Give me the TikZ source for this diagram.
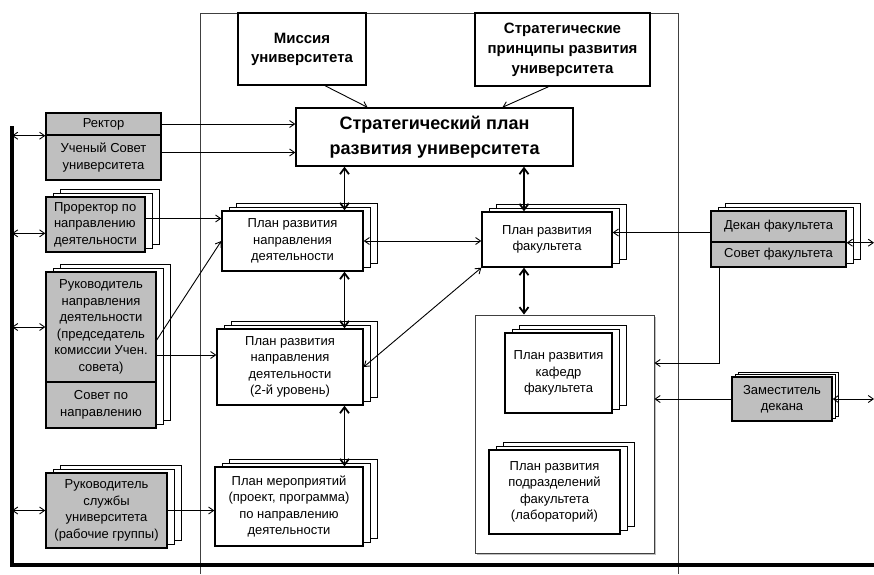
\documentclass[tikz,border=0pt]{standalone}
\usepackage{fontspec}
\setmainfont{Liberation Sans}
\usepackage{tikz}
\usetikzlibrary{arrows.meta}
\usetikzlibrary{shadows}

\tikzset{
  doc/.style={draw, line width=1.4pt, fill=white, align=center, inner sep=1pt,
    font=\fontsize{13}{16.5}\selectfont},
  staff/.style={doc, fill=black!25},
  layer/.style={fill=white, draw=black, line width=0.8pt},
  stack/.style={copy shadow={layer, shadow xshift=14pt, shadow yshift=8pt},
    copy shadow={layer, shadow xshift=7pt, shadow yshift=4pt}},
  thinframe/.style={draw=black!75, line width=0.9pt},
  arr/.style={-{Straight Barb[length=5pt,width=7pt]}, line width=0.9pt},
  biarr/.style={{Straight Barb[length=5pt,width=7pt]}-{Straight Barb[length=5pt,width=7pt]}, line width=0.9pt},
  bigarr/.style={{Straight Barb[length=6pt,width=9pt]}-{Straight Barb[length=6pt,width=9pt]}, line width=1.8pt},
  bus/.style={line width=3.5pt}
}

\begin{document}
\begin{tikzpicture}[x=1pt,y=-1pt]
            \useasboundingbox (0,0) rectangle (874,574);
            \coordinate (mtl) at (200,13);
            \coordinate (mtr) at (678,13);
            \coordinate (mbl) at (200,574);
            \coordinate (mbr) at (678,574);
            \draw[thinframe] (mbl) -- (mtl) -- (mtr) -- (mbr);

            \node[doc, font=\bfseries\fontsize{15}{19}\selectfont, minimum width=128pt, minimum height=72pt] (missiya) at (302,49) {Миссия\\университета};
            \node[doc, font=\bfseries\fontsize{15}{20}\selectfont, minimum width=175pt, minimum height=73pt] (princ) at (562.5,49.5) {Стратегические\\принципы развития\\университета};
            \node[doc, font=\bfseries\fontsize{18}{25}\selectfont, minimum width=277pt, minimum height=58pt] (strat) at (434.5,137) {Стратегический план\\развития университета};

            \node[staff, minimum width=115pt, minimum height=22pt] (rektor) at (103.5,124) {Ректор};
            \node[staff, minimum width=115pt, minimum height=45pt] (uchsovet) at (103.5,157.5) {Ученый Совет\\университета};
            \node[staff, stack, align=left, minimum width=99pt, minimum height=55pt] (prorektor) at (95.5,224.5) {Проректор по\\направлению\\деятельности};
            \node[staff, stack, minimum width=110pt, minimum height=156pt] (rukback) at (101,350) {};
            \node[staff, minimum width=110pt, minimum height=110pt] (ruk) at (101,327) {Руководитель\\направления\\деятельности\\(председатель\\комиссии Учен.\\совета)};
            \node[staff, minimum width=110pt, minimum height=46pt] (sovnapr) at (101,405) {Совет по\\направлению};
            \node[staff, stack, minimum width=121pt, minimum height=75pt] (sluzhba) at (106.5,510.5) {Руководитель\\службы\\университета\\(рабочие группы)};

            \node[doc, stack, minimum width=141pt, minimum height=60pt] (napr1) at (292.5,241) {План развития\\направления\\деятельности};
            \node[doc, stack, minimum width=146pt, minimum height=76pt] (napr2) at (290,367) {План развития\\направления\\деятельности\\(2-й уровень)};
            \node[doc, stack, minimum width=148pt, minimum height=79pt] (merop) at (289,506.5) {План мероприятий\\(проект, программа)\\по направлению\\деятельности};

            \node[doc, stack, minimum width=130pt, minimum height=55pt] (fak) at (547,239.5) {План развития\\факультета};
            \node[thinframe, fill=white, drop shadow={shadow xshift=1.5pt, shadow yshift=-1.5pt}, minimum width=179pt, minimum height=238pt] (kafframe) at (564.5,434) {};
            \node[doc, stack, minimum width=107pt, minimum height=80pt] (kafedr) at (558.5,373) {План развития\\кафедр\\факультета};
            \node[doc, stack, minimum width=131pt, minimum height=84pt] (podr) at (554.5,492) {План развития\\подразделений\\факультета\\(лабораторий)};

            \node[staff, stack, minimum width=135pt, minimum height=56pt] (dekback) at (778.5,239) {};
            \node[staff, minimum width=135pt, minimum height=31pt] (dekan) at (778.5,226.5) {Декан факультета};
            \node[staff, minimum width=135pt, minimum height=25pt] (sovfak) at (778.5,254.5) {Совет факультета};
            \node[staff, copy shadow={layer, shadow xshift=6pt, shadow yshift=5pt}, copy shadow={layer, shadow xshift=3pt, shadow yshift=2.5pt}, minimum width=100pt, minimum height=44pt] (zam) at (782,399) {Заместитель\\декана};

            \coordinate (bustop) at (12,126);
            \coordinate (buscorner) at (12,565);
            \coordinate (busend) at (874,565);
            \coordinate (redge) at (874,0);
            \draw[bus] (bustop) -- (buscorner) -- (busend);

            \draw[biarr] (rektor.south west -| bustop) -- (rektor.south west);
            \draw[biarr] (prorektor.190 -| bustop) -- (prorektor.190);
            \draw[biarr] (ruk.west -| bustop) -- (ruk.west);
            \draw[biarr] (sluzhba.west -| bustop) -- (sluzhba.west);

            \draw[arr] ([xshift=23pt]missiya.south) -- ([xshift=-67pt]strat.north);
            \draw[arr] ([xshift=-14pt]princ.south) -- ([xshift=68pt]strat.north);
            \draw[arr] (rektor.east) -- (rektor.east -| strat.west);
            \coordinate (us) at ([yshift=5pt]uchsovet.east);
            \draw[arr] (us) -- (us -| strat.west);

            \coordinate (pr) at ([yshift=6pt]prorektor.east);
            \draw[arr] (pr) -- (pr -| napr1.west);
            \draw[arr] ([yshift=-13pt]ruk.east) -- (napr1.west);
            \coordinate (rk) at ([yshift=-28pt]ruk.east);
            \draw[arr] (rk) -- (rk -| napr2.west);
            \draw[arr] (sluzhba.east) -- (sluzhba.east -| merop.west);

            \coordinate (n1) at ([xshift=52pt]napr1.north);
            \draw[bigarr] (n1 |- strat.south) -- (n1);
            \draw[bigarr] (n1 |- napr1.south) -- (n1 |- napr2.north);
            \draw[bigarr] (n1 |- napr2.south) -- (n1 |- merop.north);
            \coordinate (f1) at ([xshift=-23pt]fak.north);
            \draw[bigarr] (f1 |- strat.south) -- (f1);
            \draw[bigarr] (f1 |- fak.south) -- (f1 |- kafframe.north);
            \draw[biarr] (napr1.east) -- (napr1.east -| fak.west);
            \draw[biarr] (napr2.east) -- (fak.south west);

            \coordinate (dk) at ([yshift=-6pt]dekan.west);
            \draw[arr] (dk) -- (dk -| fak.east);
            \coordinate (sf) at ([xshift=9pt]sovfak.south west);
            \coordinate (kk) at ([yshift=71pt]kafframe.east);
            \draw[arr] (sf) |- (kk);
            \draw[arr] (zam.west) -- (zam.west -| kafframe.east);
            \draw[biarr] (dekan.south east) -- (dekan.south east -| redge);
            \draw[biarr] (zam.east) -- (zam.east -| redge);
        \end{tikzpicture}
\end{document}
